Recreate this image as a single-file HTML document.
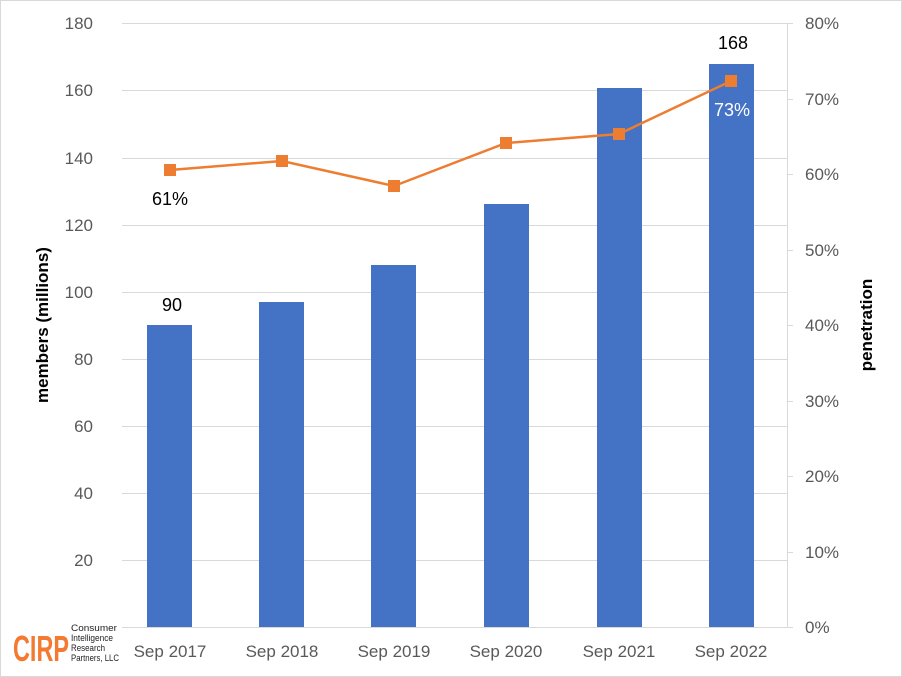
<!DOCTYPE html><html><head><style>body{margin:0}svg{display:block}text{font-family:"Liberation Sans",sans-serif}</style></head><body>
<svg width="902" height="677" xmlns="http://www.w3.org/2000/svg">
<rect x="0.5" y="0.5" width="901" height="676" fill="#fff" stroke="#d9d9d9"/>
<g stroke="#d9d9d9" stroke-width="1">
<line x1="122" x2="787" y1="23.5" y2="23.5"/><line x1="122" x2="787" y1="90.5" y2="90.5"/><line x1="122" x2="787" y1="158.5" y2="158.5"/><line x1="122" x2="787" y1="225.5" y2="225.5"/><line x1="122" x2="787" y1="292.5" y2="292.5"/><line x1="122" x2="787" y1="359.5" y2="359.5"/><line x1="122" x2="787" y1="426.5" y2="426.5"/><line x1="122" x2="787" y1="493.5" y2="493.5"/><line x1="122" x2="787" y1="560.5" y2="560.5"/><line x1="122" x2="787" y1="627.5" y2="627.5"/>
<line x1="787.5" x2="787.5" y1="23" y2="627"/>
<line x1="787" x2="793" y1="23.5" y2="23.5"/><line x1="787" x2="793" y1="99.5" y2="99.5"/><line x1="787" x2="793" y1="174.5" y2="174.5"/><line x1="787" x2="793" y1="250.5" y2="250.5"/><line x1="787" x2="793" y1="325.5" y2="325.5"/><line x1="787" x2="793" y1="401.5" y2="401.5"/><line x1="787" x2="793" y1="476.5" y2="476.5"/><line x1="787" x2="793" y1="552.5" y2="552.5"/><line x1="787" x2="793" y1="627.5" y2="627.5"/>
</g>
<g fill="#4472c4">
<rect x="147" y="325" width="45" height="302"/><rect x="259" y="302" width="45" height="325"/><rect x="371" y="265" width="45" height="362"/><rect x="484" y="204" width="45" height="423"/><rect x="597" y="88" width="45" height="539"/><rect x="709" y="64" width="45" height="563"/>
</g>
<polyline points="170,170 282,161 394,186 506,143 619,134 731,81" fill="none" stroke="#ed7d31" stroke-width="2.5"/>
<g fill="#ed7d31"><rect x="164" y="164" width="12" height="12"/><rect x="276" y="155" width="12" height="12"/><rect x="388" y="180" width="12" height="12"/><rect x="500" y="137" width="12" height="12"/><rect x="613" y="128" width="12" height="12"/><rect x="725" y="75" width="12" height="12"/></g>
<g font-size="17" fill="#595959" text-anchor="end">
<text x="93" y="29">180</text><text x="93" y="96">160</text><text x="93" y="164">140</text><text x="93" y="231">120</text><text x="93" y="298">100</text><text x="93" y="365">80</text><text x="93" y="432">60</text><text x="93" y="499">40</text><text x="93" y="566">20</text>
</g>
<g font-size="17" fill="#595959" text-anchor="start">
<text x="805" y="29">80%</text><text x="805" y="105">70%</text><text x="805" y="180">60%</text><text x="805" y="256">50%</text><text x="805" y="331">40%</text><text x="805" y="407">30%</text><text x="805" y="482">20%</text><text x="805" y="558">10%</text><text x="805" y="633">0%</text>
</g>
<g font-size="17" fill="#595959" text-anchor="middle">
<text x="170" y="657">Sep 2017</text><text x="282" y="657">Sep 2018</text><text x="394" y="657">Sep 2019</text><text x="506" y="657">Sep 2020</text><text x="619" y="657">Sep 2021</text><text x="731" y="657">Sep 2022</text>
</g>
<g font-size="18" text-anchor="middle">
<text x="172" y="311" fill="#000">90</text><text x="733" y="49" fill="#000">168</text><text x="170" y="205" fill="#000">61%</text><text x="732" y="116" fill="#fff">73%</text>
</g>
<text transform="translate(48,325) rotate(-90)" font-size="17" font-weight="bold" text-anchor="middle">members (millions)</text>
<text transform="translate(872,325) rotate(-90)" font-size="17" font-weight="bold" text-anchor="middle">penetration</text>
<text x="13" y="661" font-size="36" font-weight="bold" fill="#f47a32" textLength="56" lengthAdjust="spacingAndGlyphs">CIRP</text>
<g font-size="9.5" fill="#222"><text x="71" y="631" textLength="46" lengthAdjust="spacingAndGlyphs">Consumer</text><text x="71" y="641" textLength="42" lengthAdjust="spacingAndGlyphs">Intelligence</text><text x="71" y="651" textLength="34" lengthAdjust="spacingAndGlyphs">Research</text><text x="71" y="661" textLength="48" lengthAdjust="spacingAndGlyphs">Partners, LLC</text></g>
</svg>
</body></html>
